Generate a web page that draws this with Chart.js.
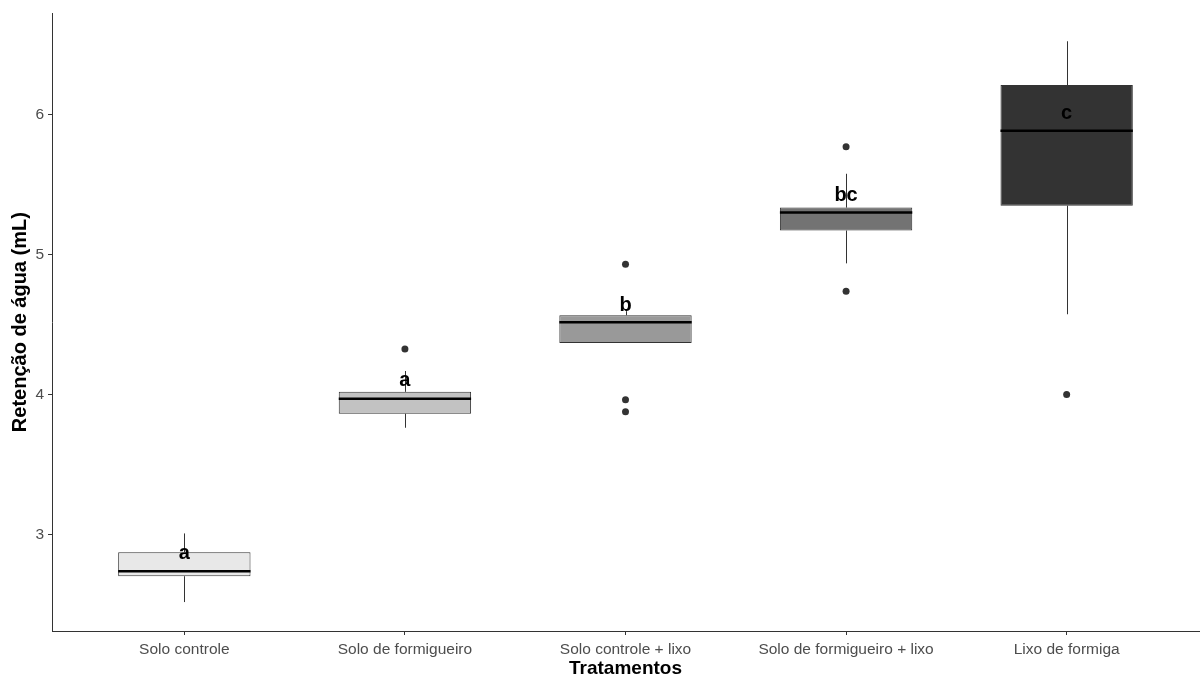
<!DOCTYPE html>
<html>
<head>
<meta charset="utf-8">
<script src="https://cdn.jsdelivr.net/npm/chart.js@4"></script>
<style>
  html, body { margin: 0; padding: 0; background: #fff; }
  #wrap { width: 1203px; height: 678px; }
</style>
</head>
<body>
<div id="wrap"><canvas id="grafico"></canvas></div>
<script>
const tratamentos = ['Solo controle', 'Solo de formigueiro', 'Solo controle + lixo', 'Solo de formigueiro + lixo', 'Lixo de formiga'];
const minimo  = [2.515, 3.762, 4.368, 4.938, 4.574];
const q1      = [2.700, 3.862, 4.368, 5.173, 5.351];
const mediana = [2.736, 3.969, 4.517, 5.302, 5.886];
const q3      = [2.871, 4.019, 4.567, 5.337, 6.214];
const maximo  = [3.006, 4.168, 4.596, 5.579, 6.527];
const outliers = [[], [4.325], [4.931, 3.962, 3.876], [5.772, 4.738], [4.0]];
const letras = ['a', 'a', 'b', 'bc', 'c'];
const letraY = [2.821, 4.061, 4.596, 5.387, 5.971];
const cores = ['#e8e8e8', '#c2c2c2', '#999999', '#737373', '#333333'];
const yTicks = [3, 4, 5, 6];

const fonte = 'Liberation Sans, Arial, sans-serif';

const pontos = [];
outliers.forEach((lista, i) => lista.forEach(v => pontos.push({ x: i + 1, y: v })));

const boxPlugin = {
  id: 'boxplot',
  beforeDatasetsDraw(chart) {
    const { ctx, scales: { x, y } } = chart;
    ctx.save();
    ctx.strokeStyle = '#333333';
    ctx.lineWidth = 1;
    tratamentos.forEach((t, i) => {
      const px = Math.round(x.getPixelForValue(i + 1)) + 0.5;
      ctx.beginPath();
      ctx.moveTo(px, y.getPixelForValue(maximo[i]));
      ctx.lineTo(px, y.getPixelForValue(q3[i]));
      ctx.moveTo(px, y.getPixelForValue(q1[i]));
      ctx.lineTo(px, y.getPixelForValue(minimo[i]));
      ctx.stroke();
    });
    ctx.restore();
  },
  afterDatasetsDraw(chart) {
    const { ctx, scales: { x, y } } = chart;
    const meta = chart.getDatasetMeta(0);
    ctx.save();
    ctx.strokeStyle = '#000';
    ctx.lineWidth = 2.5;
    meta.data.forEach((bar, i) => {
      const py = y.getPixelForValue(mediana[i]);
      ctx.beginPath();
      ctx.moveTo(bar.x - bar.width / 2, py);
      ctx.lineTo(bar.x + bar.width / 2, py);
      ctx.stroke();
    });
    ctx.fillStyle = '#000';
    ctx.font = 'bold 20px ' + fonte;
    ctx.textAlign = 'center';
    ctx.textBaseline = 'alphabetic';
    letras.forEach((l, i) => {
      ctx.fillText(l, x.getPixelForValue(i + 1), y.getPixelForValue(letraY[i]));
    });
    ctx.restore();
  }
};

new Chart(document.getElementById('grafico'), {
  type: 'bar',
  data: {
    datasets: [
      {
        type: 'bar',
        data: tratamentos.map((t, i) => ({ x: i + 1, y: [q1[i], q3[i]] })),
        backgroundColor: cores,
        borderColor: '#333333',
        borderWidth: 1,
        borderSkipped: false,
        categoryPercentage: 1,
        barPercentage: 0.6
      },
      {
        type: 'scatter',
        data: pontos,
        pointRadius: 3.5,
        pointBackgroundColor: '#333333',
        pointBorderWidth: 0
      }
    ]
  },
  options: {
    responsive: true,
    maintainAspectRatio: false,
    animation: false,
    layout: { padding: { top: 11, right: 0, left: 0, bottom: 0 } },
    plugins: {
      legend: { display: false },
      tooltip: { enabled: false }
    },
    scales: {
      x: {
        type: 'linear',
        min: 0.4,
        max: 5.6,
        offset: false,
        afterFit(scale) { scale.height = 47; },
        afterBuildTicks(scale) { scale.ticks = tratamentos.map((t, i) => ({ value: i + 1 })); },
        grid: { display: true, offset: false, drawOnChartArea: false, drawTicks: true, tickLength: 4, color: '#333333' },
        border: { display: true, color: '#333333', width: 1 },
        ticks: {
          autoSkip: false,
          maxRotation: 0,
          padding: 5,
          color: '#4d4d4d',
          font: { family: fonte, size: 15.5 },
          callback: v => tratamentos[v - 1] || ''
        },
        title: {
          display: true,
          text: 'Tratamentos',
          color: '#000',
          font: { family: fonte, size: 19, weight: 'bold', lineHeight: 1 },
          padding: { top: 0, bottom: 0 }
        }
      },
      y: {
        min: 2.308,
        max: 6.727,
        afterFit(scale) { scale.width = 52; },
        afterBuildTicks(scale) { scale.ticks = yTicks.map(v => ({ value: v })); },
        grid: { display: true, drawOnChartArea: false, drawTicks: true, tickLength: 4, color: '#333333' },
        border: { display: true, color: '#333333', width: 1 },
        ticks: {
          padding: 4,
          color: '#4d4d4d',
          font: { family: fonte, size: 15.5 }
        },
        title: {
          display: true,
          text: 'Retenção de água (mL)',
          color: '#000',
          font: { family: fonte, size: 20, weight: 'bold', lineHeight: 1 },
          padding: { top: 10, bottom: 0 }
        }
      }
    }
  },
  plugins: [boxPlugin]
});
</script>
</body>
</html>
